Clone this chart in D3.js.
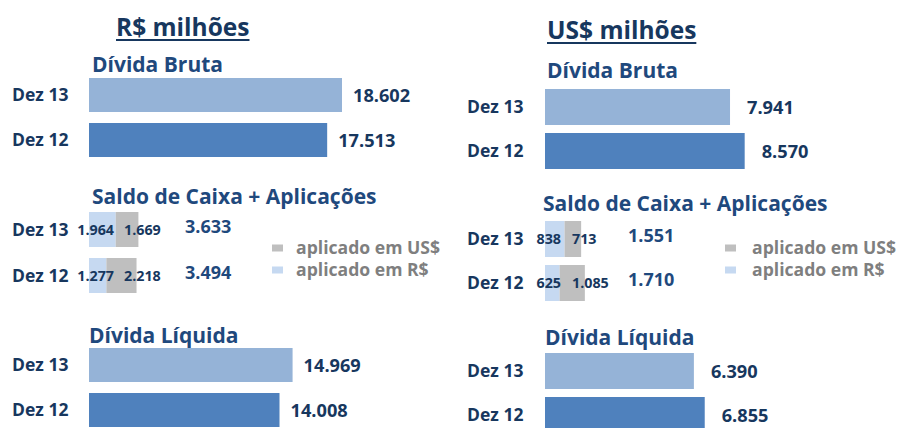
<!DOCTYPE html>
<html><head><meta charset="utf-8">
<script src="https://cdn.jsdelivr.net/npm/d3@7"></script>
<style>
body{margin:0;background:#fff;}
text{font-family:"Open Sans",Lato,sans-serif;font-weight:bold;}
</style></head>
<body><svg id="c" width="898" height="428"></svg>
<script>
// ---- data ----
const categories = ["Dez 13", "Dez 12"];
const panelTitles = ["R$ milhões", "US$ milhões"];
const sectionTitles = ["Dívida Bruta", "Saldo de Caixa + Aplicações", "Dívida Líquida"];
const legendLabels = ["aplicado em US$", "aplicado em R$"];

const brlBruta = [18602, 17513];
const brlCaixaBRL = [1964, 1277];
const brlCaixaUSD = [1669, 2218];
const brlCaixaTotal = [3633, 3494];
const brlLiquida = [14969, 14008];

const usdBruta = [7941, 8570];
const usdCaixaBRL = [838, 625];
const usdCaixaUSD = [713, 1085];
const usdCaixaTotal = [1551, 1710];
const usdLiquida = [6390, 6855];

// ---- style ----
const C = {
  dez13: "#95B3D7", dez12: "#4F81BD", light: "#C6D9F1", gray: "#BFBFBF",
  navy: "#17375E", title: "#1F497D", legend: "#7F7F7F"
};
const F = { title: 24.5, sec: 21, cat: 17.5, val: 18.2, inner: 14.3, tot: 18, leg: 17.6 };
const fmt = v => d3.format(",")(v).replace(/,/g, ".");

const svg = d3.select("#c");

const panels = [
  { title: panelTitles[0], bruta: brlBruta, cBRL: brlCaixaBRL, cUSD: brlCaixaUSD, cTot: brlCaixaTotal, liq: brlLiquida,
    x0: 89, maxV: 20000, maxW: 272, catX: 12, titleX: 116, titleY: 35.5, ulY: 40,
    secX: [92, 92, 89], secY: [72, 204, 343], bandTop: [78, 212, 348], step: [45, 46, 45], bw: [34, 35, 34],
    valOff: 11, lightEnd: 25, grayStart: 35, totX: 185, legX: 272, legTX: 296, legY: [248, 270] },
  { title: panelTitles[1], bruta: usdBruta, cBRL: usdCaixaBRL, cUSD: usdCaixaUSD, cTot: usdCaixaTotal, liq: usdLiquida,
    x0: 545, maxV: 10000, maxW: 233, catX: 467, titleX: 547, titleY: 38.5, ulY: 43,
    secX: [547, 543, 545], secY: [78, 211, 345], bandTop: [89, 221, 353], step: [44, 44, 44], bw: [36, 36, 36],
    valOff: 17, lightEnd: 16, grayStart: 27, totX: 628, legX: 725, legTX: 752, legY: [248, 270] }
];

panels.forEach(p => {
  const g = svg.append("g");
  const x = d3.scaleLinear().domain([0, p.maxV]).range([p.x0, p.x0 + p.maxW]);

  const t = g.append("text").attr("x", p.titleX).attr("y", p.titleY)
    .attr("font-size", F.title).attr("fill", C.navy).text(p.title);
  const tw = t.node().getComputedTextLength();
  g.append("rect").attr("x", p.titleX).attr("y", p.ulY - 1).attr("width", tw).attr("height", 2).attr("fill", C.navy);

  const bandFor = i => {
    const gap = p.step[i] - p.bw[i];
    return d3.scaleBand().domain(categories)
      .range([p.bandTop[i] - gap / 2, p.bandTop[i] - gap / 2 + 2 * p.step[i]])
      .paddingInner(gap / p.step[i]).paddingOuter(gap / p.step[i] / 2);
  };

  sectionTitles.forEach((s, i) => {
    g.append("text").attr("x", p.secX[i]).attr("y", p.secY[i])
      .attr("font-size", F.sec).attr("fill", C.title).text(s);
    const y = bandFor(i);
    g.selectAll(null).data(categories).enter().append("text")
      .attr("x", p.catX).attr("y", d => y(d) + y.bandwidth() / 2).attr("dy", "0.36em")
      .attr("font-size", F.cat).attr("fill", C.navy).text(d => d);

    if (i !== 1) {
      const vals = i === 0 ? p.bruta : p.liq;
      g.selectAll(null).data(vals).enter().append("rect")
        .attr("x", x(0)).attr("y", (d, k) => y(categories[k]))
        .attr("width", d => x(d) - x(0)).attr("height", y.bandwidth())
        .attr("fill", (d, k) => k === 0 ? C.dez13 : C.dez12);
      g.selectAll(null).data(vals).enter().append("text")
        .attr("x", d => x(d) + p.valOff).attr("y", (d, k) => y(categories[k]) + y.bandwidth() / 2)
        .attr("dy", "0.36em").attr("font-size", F.val).attr("fill", C.navy).text(fmt);
    } else {
      g.selectAll(null).data(p.cBRL).enter().append("rect")
        .attr("x", x(0)).attr("y", (d, k) => y(categories[k]))
        .attr("width", d => x(d) - x(0)).attr("height", y.bandwidth()).attr("fill", C.light);
      g.selectAll(null).data(p.cUSD).enter().append("rect")
        .attr("x", (d, k) => x(p.cBRL[k])).attr("y", (d, k) => y(categories[k]))
        .attr("width", (d, k) => x(p.cBRL[k] + d) - x(p.cBRL[k])).attr("height", y.bandwidth()).attr("fill", C.gray);
      g.selectAll(null).data(p.cBRL).enter().append("text")
        .attr("x", p.x0 + p.lightEnd).attr("text-anchor", "end")
        .attr("y", (d, k) => y(categories[k]) + y.bandwidth() / 2).attr("dy", "0.36em")
        .attr("font-size", F.inner).attr("fill", C.navy).text(fmt);
      g.selectAll(null).data(p.cUSD).enter().append("text")
        .attr("x", p.x0 + p.grayStart)
        .attr("y", (d, k) => y(categories[k]) + y.bandwidth() / 2).attr("dy", "0.36em")
        .attr("font-size", F.inner).attr("fill", C.navy).text(fmt);
      g.selectAll(null).data(p.cTot).enter().append("text")
        .attr("x", p.totX)
        .attr("y", (d, k) => y(categories[k]) + y.bandwidth() / 2 - 3).attr("dy", "0.36em")
        .attr("font-size", F.tot).attr("fill", C.title).text(fmt);
      // legend
      legendLabels.forEach((l, j) => {
        g.append("rect").attr("x", p.legX).attr("y", p.legY[j] - 3.5).attr("width", 11).attr("height", 7)
          .attr("fill", j === 0 ? C.gray : C.light);
        g.append("text").attr("x", p.legTX).attr("y", p.legY[j]).attr("dy", "0.36em")
          .attr("font-size", F.leg).attr("fill", C.legend).text(l);
      });
    }
  });
});
</script></body></html>
